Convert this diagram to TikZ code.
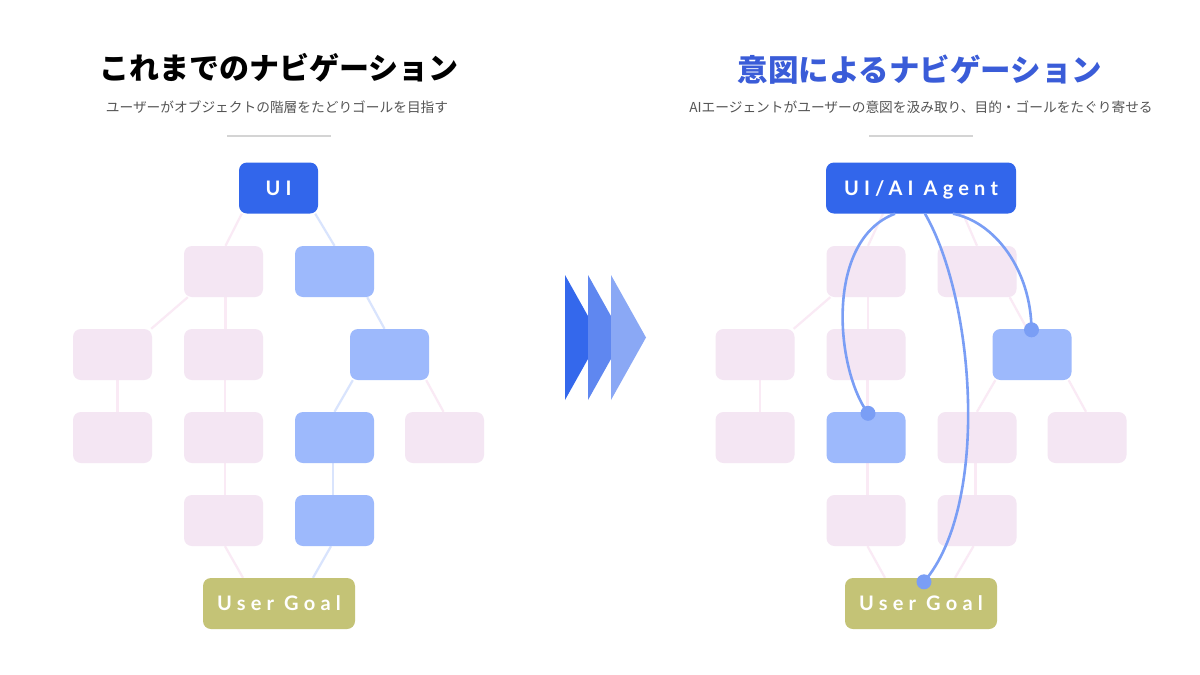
\documentclass[tikz,border=0pt]{standalone}
\usepackage{fontspec}
\setmainfont{Noto Sans}
\newfontfamily\jpfont{Noto Sans CJK JP}
\newfontfamily\boxfont[LetterSpace=26]{Lato}
\usepackage{tikz}
\usetikzlibrary{backgrounds}
\usepackage{xcolor}
\definecolor{headblue}{HTML}{3266EB}
\definecolor{boxblue}{HTML}{9DB9FC}
\definecolor{boxpink}{HTML}{F4E6F3}
\definecolor{goalolive}{HTML}{C4C376}
\definecolor{linepink}{HTML}{FAEAF5}
\definecolor{lineblue}{HTML}{D9E4FD}
\definecolor{pathblue}{HTML}{7A9EF5}
\definecolor{titleblue}{HTML}{3A5CD8}
\definecolor{subgray}{HTML}{555555}
\definecolor{sepgray}{HTML}{D4D4D4}
\definecolor{arrowA}{HTML}{3468EC}
\definecolor{arrowB}{HTML}{5F87F0}
\definecolor{arrowC}{HTML}{8AA8F5}

\begin{document}
\begin{tikzpicture}[x=1pt,y=-1pt,
    box/.style={rounded corners=8pt,minimum width=79pt,minimum height=51pt,inner sep=0pt},
    pinkbox/.style={box,fill=boxpink},
    bluebox/.style={box,fill=boxblue},
    headbox/.style={box,fill=headblue,text=white,text height=14.4pt,text depth=0pt,
        font=\boxfont\bfseries\fontsize{20}{20}\selectfont},
    goalbox/.style={headbox,fill=goalolive,minimum width=152pt},
    pinkline/.style={draw=linepink,line width=2.2pt},
    blueline/.style={draw=lineblue,line width=2.2pt},
    pathline/.style={draw=pathblue,line width=2.6pt},
    pathdot/.style={circle,fill=pathblue,inner sep=0pt,minimum size=15pt}]
    \useasboundingbox (0,0) rectangle (1200,675);

    \node[font=\jpfont\bfseries\fontsize{30}{30}\selectfont,text=black] (ltitle) at (279,68) {これまでのナビゲーション};
    \node[font=\jpfont\fontsize{13.7}{13.7}\selectfont,text=subgray] (lsub) at (277,107) {ユーザーがオブジェクトの階層をたどりゴールを目指す};
    \node[font=\jpfont\bfseries\fontsize{30.5}{30.5}\selectfont,text=titleblue] (rtitle) at (920,70) {意図によるナビゲーション};
    \node[font=\jpfont\fontsize{13.7}{13.7}\selectfont,text=subgray] (rsub) at (921,107) {AIエージェントがユーザーの意図を汲み取り、目的・ゴールをたぐり寄せる};
    \draw[sepgray,line width=2pt] (227,136) -- (331,136);
    \draw[sepgray,line width=2pt] (869,136) -- (973,136);

    \node[headbox] (L0) at (278.5,188) {UI};
    \node[headbox,minimum width=190pt] (R0) at (921,188) {UI/AI Agent};
    \node[goalbox] (LG) at (279,603.5) {User Goal};
    \node[goalbox] (RG) at (921,603.5) {User Goal};
    \foreach \n/\x/\y in {L1/223.5/271.5,L3/112.5/354.5,L4/223.5/354.5,L6/112.5/437.5,
        L7/223.5/437.5,L9/444.5/437.5,L10/223.5/520.5,
        R1/866/271.5,R2/977/271.5,R3/755/354.5,R4/866/354.5,R6/755/437.5,
        R8/977/437.5,R9/1087/437.5,R10/866/520.5,R11/977/520.5}
        \node[pinkbox] (\n) at (\x,\y) {};
    \foreach \n/\x/\y in {L2/334.5/271.5,L5/389.5/354.5,L8/334.5/437.5,L11/334.5/520.5,
        R5/1032/354.5,R7/866/437.5}
        \node[bluebox] (\n) at (\x,\y) {};

    \begin{scope}[on background layer]
    \fill[white] (0,0) rectangle (1200,675);
    \foreach \s/\c in {L/blueline,R/pinkline} {
        \draw[pinkline] ([xshift=4pt]\s1.south west) -- ([xshift=-1pt]\s3.north east);
        \draw[pinkline] ([xshift=2pt]\s1.south) -- ([xshift=2pt]\s4.north);
        \draw[\c] ([xshift=-7pt]\s2.south east) -- ([xshift=-5pt]\s5.north);
        \draw[pinkline] ([xshift=5pt]\s3.south) -- ([xshift=5pt]\s6.north);
        \draw[pinkline] ([xshift=1.5pt]\s4.south) -- ([xshift=1.5pt]\s7.north);
        \draw[\c] ([xshift=3pt]\s5.south west) -- (\s8.north);
        \draw[pinkline] ([xshift=-3pt]\s5.south east) -- ([xshift=-1pt]\s9.north);
        \draw[pinkline] ([xshift=1.5pt]\s7.south) -- ([xshift=1.5pt]\s10.north);
        \draw[\c] ([xshift=-1.5pt]\s8.south) -- ([xshift=-1.5pt]\s11.north);
        \draw[pinkline] ([xshift=1.5pt]\s10.south) -- ([xshift=-36pt]\s G.north);
        \draw[\c] ([xshift=-3.5pt]\s11.south) -- ([xshift=34pt]\s G.north);
    }
    \draw[pinkline] ([xshift=3pt]L0.south west) -- ([xshift=2pt]L1.north);
    \draw[blueline] ([xshift=-3pt]L0.south east) -- (L2.north);
    \draw[pinkline] ([xshift=-38pt]R0.south) -- ([xshift=2pt]R1.north);
    \draw[pinkline] ([xshift=42pt]R0.south) -- (R2.north);
    \end{scope}

    \node[pathdot] (d1) at ([xshift=2pt,yshift=-1.5pt]R7.north) {};
    \node[pathdot] (d2) at ([xshift=-0.5pt,yshift=-1pt]R5.north) {};
    \node[pathdot] (d3) at ([xshift=3pt,yshift=-4pt]RG.north) {};
    \draw[pathline] ([xshift=-26pt]R0.south) .. controls (825,240) and (835,368) .. (d1.center);
    \draw[pathline] ([xshift=4pt]R0.south) .. controls (975,300) and (990,505) .. (d3.center);
    \draw[pathline] ([xshift=32pt]R0.south) .. controls (995,222) and (1031,270) .. (d2.center);

    \foreach \i/\c in {0/arrowA,1/arrowB,2/arrowC}
        \fill[\c] (565+23*\i,275) -- (565+23*\i,400) -- (600+23*\i,337.5) -- cycle;
\end{tikzpicture}
\end{document}
